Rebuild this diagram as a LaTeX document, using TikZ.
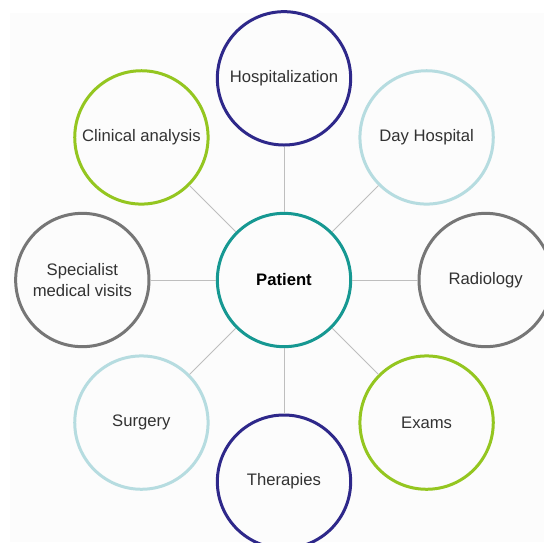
\documentclass[tikz,border=0pt]{standalone}
\usepackage{fontspec}
\setmainfont{Liberation Sans}
\usetikzlibrary{positioning}

\definecolor{navyring}{RGB}{46,40,138}
\definecolor{tealring}{RGB}{22,152,146}
\definecolor{limering}{RGB}{148,198,32}
\definecolor{paleblue}{RGB}{182,220,224}
\definecolor{greyring}{RGB}{118,118,118}
\definecolor{linkgrey}{RGB}{190,190,190}
\definecolor{labelgrey}{RGB}{50,50,50}
\definecolor{paper}{RGB}{252,252,252}

\begin{document}
\begin{tikzpicture}[x=0.6pt,y=-0.6pt,node distance=121pt,auto]
  \tikzstyle{area}=[circle,line width=1.8pt,minimum size=80pt,inner sep=0pt,
        align=center,text=labelgrey,font=\fontsize{10}{13}\selectfont]
  \tikzstyle{link}=[draw=linkgrey,line width=0.6pt]
  \useasboundingbox (0,0) rectangle (544,542);
  \fill [paper] (10,13) rectangle (544,542);
    \node [area,draw=tealring,text=black,font=\fontsize{10}{13}\selectfont\bfseries] (pat) at (284,280) {Patient};
    \node [area,draw=navyring] (hosp) [above of=pat] {Hospitalization} edge [link] (pat);
    \node [area,draw=paleblue] (day) [above right of=pat] {Day Hospital} edge [link] (pat);
    \node [area,draw=greyring] (radio) [right of=pat] {Radiology} edge [link] (pat);
    \node [area,draw=limering] (exams) [below right of=pat] {Exams} edge [link] (pat);
    \node [area,draw=navyring] (ther) [below of=pat] {Therapies} edge [link] (pat);
    \node [area,draw=paleblue] (surg) [below left of=pat] {Surgery} edge [link] (pat);
    \node [area,draw=greyring] (spec) [left of=pat] {Specialist\\medical visits} edge [link] (pat);
    \node [area,draw=limering] (clin) [above left of=pat] {Clinical analysis} edge [link] (pat);

\end{tikzpicture}
\end{document}
